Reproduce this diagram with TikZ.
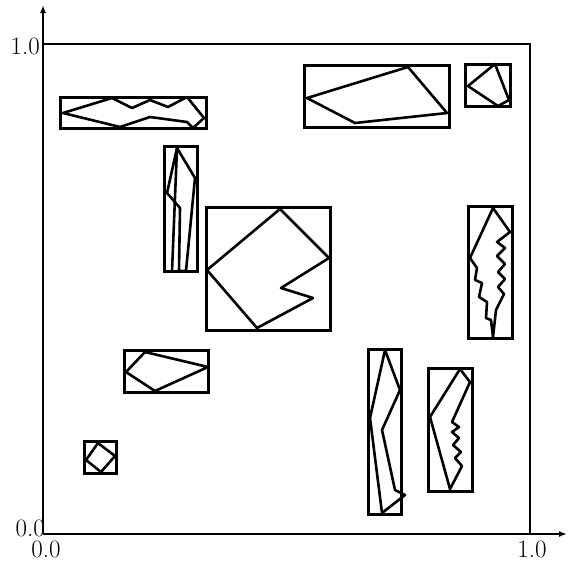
\documentclass[tikz,border=0pt]{standalone}
\usetikzlibrary{arrows.meta}
\begin{document}
\begin{tikzpicture}[x=1pt,y=-1pt,
  boxline/.style={line width=3.0pt,line join=miter},
  polyline/.style={line width=2.6pt,line join=round},
  axisline/.style={line width=2.2pt},
  lbl/.style={font=\fontsize{25}{25}\selectfont,inner sep=0pt}]
\useasboundingbox (0,0) rectangle (569,565);
% axes and frame
\coordinate (O) at (43,534);
\coordinate (ytop) at (43,5);
\coordinate (xend) at (567,534);
\coordinate (TL) at (43,44);
\coordinate (TR) at (530,44);
\coordinate (BR) at (530,534);
\draw[axisline,-{Latex[length=8pt,width=6pt]}] (O) -- (ytop);
\draw[axisline,-{Latex[length=8pt,width=6pt]}] (O) -- (xend);
\draw[axisline] (TL) -- (TR) -- (BR);
\node[lbl,anchor=east] (l1) at (40,46) {1.0};
\node[lbl,anchor=east] (l0) at (45,528) {0.0};
\node[lbl] (b0) at (46,549) {0.0};
\node[lbl] (b1) at (532,549) {1.0};
% box 1
\draw[boxline] (60,97) rectangle (206,128);
\draw[polyline] (63,113) -- (112,98) -- (132,108) -- (150,100) -- (168,107) -- (187,97) -- (204,118) -- (193,128) -- (187,122) -- (150,117) -- (120,127) -- cycle;
% box 2
\draw[boxline] (304,65) rectangle (449,127);
\draw[polyline] (307,98) -- (408,67) -- (447,113) -- (355,123) -- cycle;
% box 3
\draw[boxline] (465,64) rectangle (510,106);
\draw[polyline] (495,64) -- (509,100) -- (498,106) -- (468,86) -- cycle;
% box 4
\draw[boxline] (164,146) rectangle (197,271);
\draw[polyline] (177,148) -- (195,178) -- (186,271) -- (179,271) -- (180,208) -- (167,193) -- cycle;
\draw[polyline] (177,148) -- (172,271);
% box 5
\draw[boxline] (206,207) rectangle (330,330);
\draw[polyline] (280,209) -- (329,258) -- (281,288) -- (313,298) -- (257,328) -- (207,270) -- cycle;
% box 6
\draw[boxline] (468,206) rectangle (512,338);
\draw[polyline] (493,208) -- (510,232) -- (497,242) -- (505,248) -- (497,256) -- (505,264) -- (498,272) -- (505,279) -- (498,287) -- (504,294) -- (496,310) -- (493,337)
  -- (491,320) -- (486,318) -- (487,302) -- (479,297) -- (482,283) -- (475,280) -- (477,268) -- (470,258) -- cycle;
% box 7
\draw[boxline] (124,350) rectangle (208,392);
\draw[polyline] (145,352) -- (208,367) -- (155,391) -- (126,372) -- cycle;
% box 8
\draw[boxline] (368,349) rectangle (401,514);
\draw[polyline] (385,350) -- (400,390) -- (382,430) -- (395,490) -- (405,495) -- (382,513) -- (370,418) -- cycle;
% box 9
\draw[boxline] (428,368) rectangle (472,491);
\draw[polyline] (460,369) -- (470,382) -- (452,422) -- (459,427) -- (452,432) -- (459,438) -- (453,445) -- (461,452) -- (455,458) -- (462,466) -- (450,489) -- (430,417) -- cycle;
% box 10
\draw[boxline] (84,441) rectangle (116,473);
\draw[polyline] (98,443) -- (115,456) -- (101,472) -- (86,460) -- cycle;
\end{tikzpicture}
\end{document}
